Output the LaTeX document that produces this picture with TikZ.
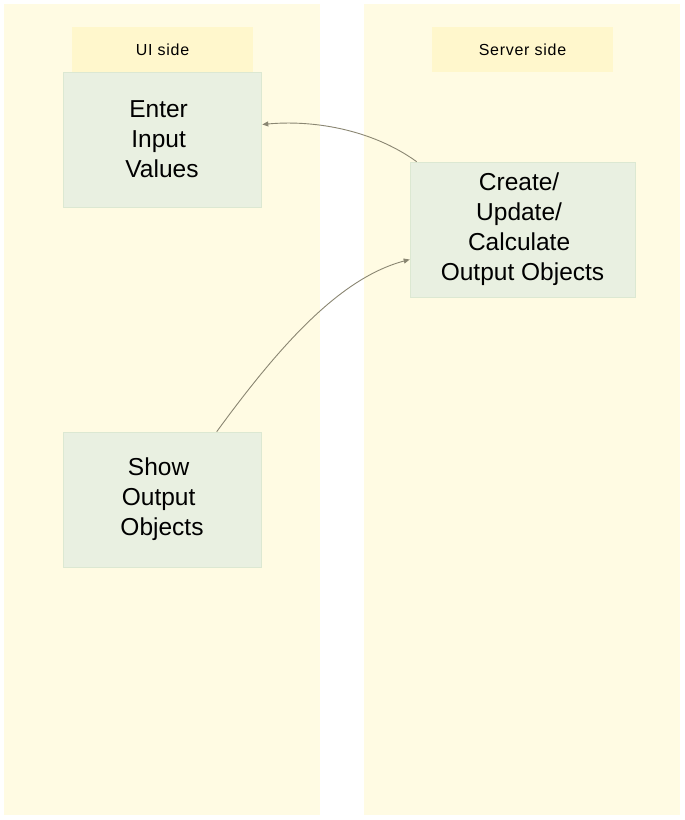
\documentclass[tikz,border=0pt]{standalone}
\usepackage{fontspec}
\setmainfont{Liberation Sans}
\usetikzlibrary{calc,arrows.meta}
\definecolor{lanefill}{HTML}{FFFBE3}
\definecolor{titlefill}{HTML}{FFF7CC}
\definecolor{boxfill}{HTML}{E9F0E1}
\definecolor{boxline}{HTML}{DCE8D2}
\definecolor{conn}{HTML}{8A8672}
\tikzset{
  lane/.style={fill=lanefill,draw=none},
  lanetitle/.style={fill=titlefill,draw=none,minimum width=181pt,minimum height=45pt,inner sep=0pt,font=\fontsize{16}{18}\selectfont\addfontfeature{LetterSpace=4.5}},
  stepbox/.style={fill=boxfill,draw=boxline,line width=0.6pt,inner sep=0pt,align=center,font=\fontsize{24.5}{30}\selectfont},
  flow/.style={draw=conn,line width=0.9pt,-{Triangle[length=6pt,width=5pt]}}
}
\newcommand{\tsp}{\hbox{\kern0.278em}}
\begin{document}
\begin{tikzpicture}[x=1pt,y=-1pt]
\useasboundingbox[fill=white] (0,0) rectangle (685,820);
\fill[lane] (4,4) rectangle (320,815);
\fill[lane] (364,4) rectangle (680,815);
\node[lanetitle] (uititle) at (162.5,49.5) {UI side};
\node[lanetitle] (srvtitle) at (522.5,49.5) {Server side};
\node[stepbox,minimum width=198pt,minimum height=135pt] (enter) at (162,139.5) {Enter\tsp\\Input\tsp\\Values};
\node[stepbox,minimum width=225pt,minimum height=135pt] (create) at (522.5,229.5) {Create/\tsp\\Update/\tsp\\Calculate\tsp\\Output Objects};
\node[stepbox,minimum width=198pt,minimum height=135pt] (show) at (162,499.5) {Show\tsp\\Output\tsp\\Objects};
\coordinate (c1s) at ($(create.north west)+(7,0)$);
\coordinate (c1e) at ($(enter.east)+(1,-15)$);
\draw[flow] (c1s) .. controls (370,128) and (310,120) .. (c1e);
\coordinate (c2s) at ($(show.north west)+(154,0)$);
\coordinate (c2e) at ($(create.west)+(0,30)$);
\draw[flow] (c2s) .. controls (280,345) and (340,278) .. (c2e);
\end{tikzpicture}
\end{document}
